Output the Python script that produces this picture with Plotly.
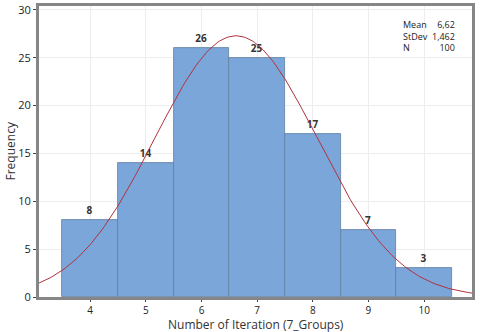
import numpy as np
import plotly.graph_objects as go

# Histogram data
groups = [4, 5, 6, 7, 8, 9, 10]
counts = [8, 14, 26, 25, 17, 7, 3]

# Summary stats shown in the legend box
mean = 6.62
stdev = 1.462
n = 100

# Fitted normal curve (bin width 1)
xs = np.linspace(3.08, 10.86, 200)
ys = n * 1.0 / (stdev * np.sqrt(2 * np.pi)) * np.exp(-0.5 * ((xs - mean) / stdev) ** 2)

fig = go.Figure()
fig.add_trace(go.Bar(
    x=groups, y=counts, width=1,
    marker=dict(color="#7BA6DA", line=dict(color="#5F7F9F", width=0.8)),
    text=["<b>%d</b>" % c for c in counts], textposition="outside",
    textfont=dict(size=10, color="#333333", family="Open Sans"),
    cliponaxis=False,
))
fig.add_trace(go.Scatter(
    x=xs, y=ys, mode="lines",
    line=dict(color="#B2323C", width=1),
))

fig.update_xaxes(
    range=[3.08, 10.86], tickvals=groups, ticks="outside", ticklen=2,
    showgrid=True, gridcolor="#EDEDED", automargin=False,
    showline=True, linecolor="#868686", linewidth=3, mirror=True,
    tickfont=dict(size=10, color="#222222"),
    zeroline=False,
)
fig.update_yaxes(
    range=[0, 30.4], tickvals=[0, 5, 10, 15, 20, 25, 30], ticks="outside", ticklen=3,
    showgrid=True, gridcolor="#EDEDED", automargin=False,
    showline=True, linecolor="#868686", linewidth=3, mirror=True,
    tickfont=dict(size=11, color="#222222"),
    zeroline=False,
)

# axis titles as annotations for exact placement
fig.add_annotation(
    xref="paper", yref="paper", x=0.5, y=0, yshift=-27, xanchor="center", yanchor="middle",
    text="Number of Iteration (7_Groups)", showarrow=False,
    font=dict(size=12, color="#333333"),
)
fig.add_annotation(
    xref="paper", yref="paper", x=0, y=0.5, xshift=-29, xanchor="center", yanchor="middle",
    text="Frequency", showarrow=False, textangle=-90,
    font=dict(size=12, color="#333333"),
)

stat_labels = ["Mean", "StDev", "N"]
stat_values = ["6,62", "1,462", "100"]
fig.add_annotation(
    xref="paper", yref="paper", x=0.835, y=0.965, xanchor="left", yanchor="top",
    text="<br>".join(stat_labels), showarrow=False, align="left",
    font=dict(size=9, color="#222222"),
)
fig.add_annotation(
    xref="paper", yref="paper", x=0.965, y=0.965, xanchor="right", yanchor="top",
    text="<br>".join(stat_values), showarrow=False, align="right",
    font=dict(size=9, color="#222222"),
)

fig.update_layout(
    width=480, height=332,
    margin=dict(l=39, r=8, t=6, b=35),
    showlegend=False,
    bargap=0,
    plot_bgcolor="white", paper_bgcolor="white",
    font=dict(family="Open Sans"),
)
# drop the default page margin so the figure sits at the window's corner
fig.write_html("out.html", config={"displayModeBar": False},
               post_script="document.body.style.margin='0';")
